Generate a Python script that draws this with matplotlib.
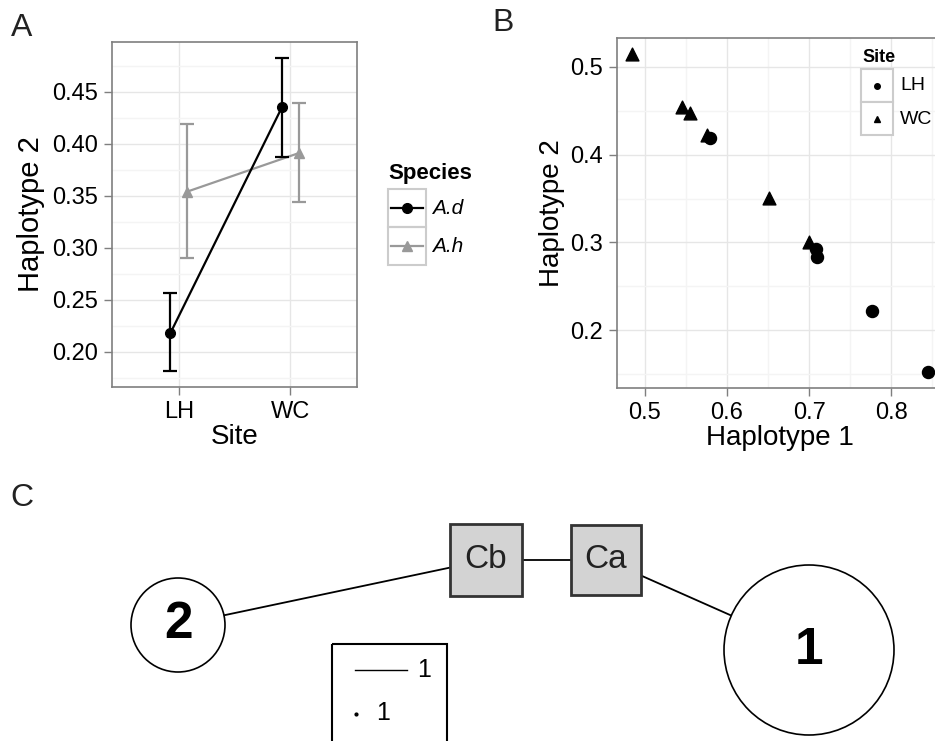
import matplotlib
import numpy as np

matplotlib.use("Agg")
import matplotlib.pyplot as plt
from matplotlib.patches import Circle, Rectangle

plt.rcParams["font.family"] = ["Liberation Sans", "DejaVu Sans"]

W, H = 935, 741

# panel A: haplotype 2 frequency by site and species (mean with error bars)
sites = ["LH", "WC"]
ad_mean = [0.218, 0.435]
ad_low = [0.181, 0.387]
ad_high = [0.256, 0.483]
ah_mean = [0.354, 0.391]
ah_low = [0.290, 0.344]
ah_high = [0.419, 0.439]

# panel B: haplotype 1 vs haplotype 2 per sample
lh_hap1 = [0.579, 0.708, 0.710, 0.776, 0.845]
lh_hap2 = [0.419, 0.292, 0.283, 0.222, 0.152]
wc_hap1 = [0.484, 0.545, 0.555, 0.576, 0.651, 0.700]
wc_hap2 = [0.515, 0.454, 0.447, 0.422, 0.351, 0.300]

# panel C: haplotype network (layout in figure pixels)
node_labels = ["2", "Cb", "Ca", "1"]
node_x = [178, 486, 606, 809]
node_y = [625, 560, 560, 650]
node_size = [47, 36, 35, 85]
node_kind = ["circle", "box", "box", "circle"]
edges = [(0, 1), (1, 2), (2, 3)]

GREY50 = "#7f7f7f"
GRID_MAJ = "#e6e6e6"
GRID_MIN = "#f4f4f4"


def px_axes(fig, x0, y0, x1, y1):
    return fig.add_axes([x0 / W, 1 - y1 / H, (x1 - x0) / W, (y1 - y0) / H])


def gg_style(ax, tick_size):
    for s in ax.spines.values():
        s.set_color(GREY50)
        s.set_linewidth(1.2)
    ax.tick_params(colors=GREY50, length=6, width=1.0, labelsize=tick_size,
                   labelcolor="black", pad=4)
    ax.tick_params(which="minor", length=0)
    ax.set_axisbelow(True)
    ax.grid(True, which="major", color=GRID_MAJ, lw=1.0)
    ax.grid(True, which="minor", color=GRID_MIN, lw=1.0)


fig = plt.figure(figsize=(W / 100, H / 100), dpi=100)

# ---------------- panel A ----------------
axA = px_axes(fig, 112, 42, 357, 387)
xpos = np.arange(1, len(sites) + 1)
dodge = 0.075
axA.errorbar(xpos - dodge, ad_mean,
             yerr=[np.subtract(ad_mean, ad_low), np.subtract(ad_high, ad_mean)],
             color="black", lw=1.6, marker="o", ms=7, capsize=5, capthick=1.6,
             elinewidth=1.6, zorder=4)
axA.errorbar(xpos + dodge, ah_mean,
             yerr=[np.subtract(ah_mean, ah_low), np.subtract(ah_high, ah_mean)],
             color="#999999", lw=1.6, marker="^", ms=7, capsize=5, capthick=1.6,
             elinewidth=1.6, zorder=3)
axA.set_xlim(0.4, 2.6)
axA.set_ylim(0.166, 0.498)
axA.set_xticks(xpos)
axA.set_xticklabels(sites)
axA.set_yticks([0.20, 0.25, 0.30, 0.35, 0.40, 0.45])
axA.set_yticklabels(["0.20", "0.25", "0.30", "0.35", "0.40", "0.45"])
axA.set_yticks(np.arange(0.175, 0.50, 0.05), minor=True)
gg_style(axA, 17)
axA.set_xlabel("Site", fontsize=20, labelpad=1)
axA.set_ylabel("Haplotype 2", fontsize=21, labelpad=5)

# ---------------- panel B ----------------
axB = px_axes(fig, 617, 38, 943, 388)
axB.scatter(lh_hap1, lh_hap2, marker="o", s=75, color="black", zorder=3)
axB.scatter(wc_hap1, wc_hap2, marker="^", s=85, color="black", zorder=3)
axB.set_xlim(0.466, 0.863)
axB.set_ylim(0.134, 0.533)
axB.set_xticks([0.5, 0.6, 0.7, 0.8])
axB.set_xticklabels(["0.5", "0.6", "0.7", "0.8"])
axB.set_xticks([0.55, 0.65, 0.75, 0.85], minor=True)
axB.set_yticks([0.2, 0.3, 0.4, 0.5])
axB.set_yticklabels(["0.2", "0.3", "0.4", "0.5"])
axB.set_yticks([0.15, 0.25, 0.35, 0.45], minor=True)
gg_style(axB, 17)
axB.set_xlabel("Haplotype 1", fontsize=20, labelpad=1)
axB.set_ylabel("Haplotype 2", fontsize=20, labelpad=4)

# ---------------- overlay: legends, panel labels, network ----------------
ov = fig.add_axes([0, 0, 1, 1])
ov.set_xlim(0, W)
ov.set_ylim(H, 0)
ov.axis("off")
ov.patch.set_alpha(0)

for lab, x, y in [("A", 11, 28), ("B", 492, 23), ("C", 10, 498)]:
    ov.text(x, y, lab, fontsize=23, va="center", ha="left", color="#222222")

# legend A
ov.text(388, 174, "Species", fontsize=16, fontweight="bold", va="center")
for i, (col, mk, lab) in enumerate([("black", "o", "A.d"), ("#999999", "^", "A.h")]):
    y0 = 189 + i * 38
    ov.add_patch(Rectangle((388, y0), 38, 38, fill=False, ec="#cccccc", lw=1.5))
    ov.plot([391, 423], [y0 + 19, y0 + 19], color=col, lw=1.6)
    ov.plot([407], [y0 + 19], marker=mk, color=col, ms=7)
    ov.text(432, y0 + 20, lab, fontsize=15, style="italic", va="center")

# legend B
ov.text(862, 57, "Site", fontsize=13, fontweight="bold", va="center")
for i, (mk, lab) in enumerate([("o", "LH"), ("^", "WC")]):
    y0 = 69 + i * 33
    ov.add_patch(Rectangle((861, y0), 32, 33, fc="white", ec="#cccccc", lw=1.5, zorder=2))
    ov.plot([877], [y0 + 16.5], marker=mk, color="black", ms=4, zorder=3)
    ov.text(900, y0 + 17, lab, fontsize=14, va="center", zorder=3)

# panel C network
for a, b in edges:
    ov.plot([node_x[a], node_x[b]], [node_y[a], node_y[b]], color="black", lw=1.3, zorder=1)
for lab, x, y, s, kind in zip(node_labels, node_x, node_y, node_size, node_kind):
    if kind == "circle":
        ov.add_patch(Circle((x, y), s, fc="white", ec="black", lw=1.2, zorder=2))
        ov.text(x, y, lab, fontsize=37, fontweight="bold", ha="center", va="center", zorder=3)
    else:
        ov.add_patch(Rectangle((x - s, y - s), 2 * s, 2 * s, fc="#d3d3d3", ec="#333333",
                               lw=2, zorder=2))
        ov.text(x, y - 1, lab, fontsize=24, ha="center", va="center", color="#222222", zorder=3)

# legend C
ov.add_patch(Rectangle((332, 644), 115, 104, fill=False, ec="black", lw=1.5))
ov.plot([355, 407], [670, 670], color="black", lw=1.0)
ov.text(417, 670, "1", fontsize=18, va="center")
ov.plot([356], [714], marker="o", color="black", ms=2)
ov.text(376, 713, "1", fontsize=18, va="center")

fig.savefig("out.png", dpi=100)
